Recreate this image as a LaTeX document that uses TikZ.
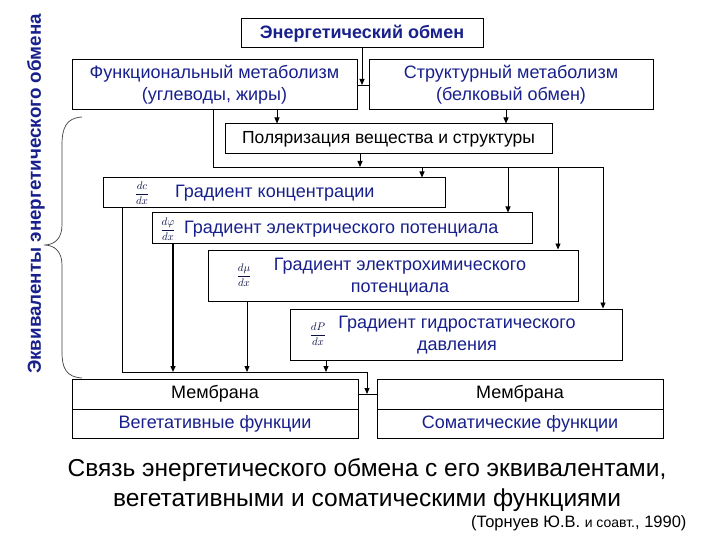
\documentclass[tikz,border=0pt]{standalone}
\usepackage{fontspec}
\setmainfont{Liberation Sans}
\usepackage{amsmath}
\usetikzlibrary{arrows.meta}
\definecolor{txblue}{RGB}{24,32,140}

\begin{document}
\begin{tikzpicture}[x=1pt,y=-1pt,
  box/.style={draw, line width=1pt, inner sep=0pt},
  arr/.style={-{Triangle[length=6pt,width=5pt]}, line width=0.9pt},
  bluetxt/.style={font=\fontsize{18}{22}\selectfont, text=txblue, align=center},
  blacktxt/.style={font=\fontsize{18}{22}\selectfont, align=center},
  fracl/.style={font=\fontsize{10.5}{12}\selectfont, text=txblue!50!black}]
  \useasboundingbox[fill=white] (0,0) rectangle (720,540);

  % Side label and brace
  \node[rotate=90, font=\fontsize{18.8}{22}\selectfont\bfseries, text=txblue] (side) at (36,194) {Эквиваленты энергетического обмена};
  \draw[line width=0.7pt, black!75] (82,117) .. controls (66,118) and (62,128) .. (62,145) -- (62,225)
    .. controls (62,238) and (55,245) .. (44,245) .. controls (55,245) and (62,252) .. (62,265) -- (62,352)
    .. controls (62,368) and (66,377) .. (82,378);

  % Energy exchange and metabolism
  \node[box, minimum width=242, minimum height=29, font=\fontsize{18}{20}\selectfont\bfseries, text=txblue] (energy) at (362,33.5) {Энергетический обмен};
  \node[box, bluetxt, minimum width=285, minimum height=50] (func) at (214.5,85) {Функциональный метаболизм\\(углеводы, жиры)};
  \node[box, bluetxt, minimum width=284, minimum height=50] (struct) at (511,85) {Структурный метаболизм\\(белковый обмен)};
  \node[box, blacktxt, minimum width=327, minimum height=30, font=\fontsize{17.5}{22}\selectfont] (polar) at (388.5,139) {Поляризация вещества и структуры};

  % Gradients
  \node[box, minimum width=342, minimum height=30] (gconc) at (274,193) {};
  \node[fracl] (fconc) at (142,193) {$\displaystyle\frac{dc}{dx}$};
  \node[bluetxt, anchor=west, inner sep=0pt] (tconc) at (175,193) {Градиент концентрации};

  \node[box, minimum width=380, minimum height=30] (gelec) at (342,228) {};
  \node[fracl] (felec) at (168,229) {$\displaystyle\frac{d\varphi}{dx}$};
  \node[bluetxt, anchor=west, inner sep=0pt] (telec) at (184,229) {Градиент электрического потенциала};

  \node[box, minimum width=370, minimum height=51] (gchem) at (393,275.5) {};
  \node[fracl] (fchem) at (244,275) {$\displaystyle\frac{d\mu}{dx}$};
  \node[bluetxt] (tchem) at (400,277) {Градиент электрохимического\\потенциала};

  \node[box, minimum width=332, minimum height=51] (ghyd) at (456,334.5) {};
  \node[fracl] (fhyd) at (318,334) {$\displaystyle\frac{dP}{dx}$};
  \node[bluetxt] (thyd) at (457,335) {Градиент гидростатического\\давления};

  % Membranes
  \node[box, blacktxt, minimum width=286, minimum height=30] (memL) at (215,394) {Мембрана};
  \node[box, bluetxt, minimum width=286, minimum height=29] (vegL) at (215,423.5) {Вегетативные функции};
  \node[box, blacktxt, minimum width=286, minimum height=30] (memR) at (520,394) {Мембрана};
  \node[box, bluetxt, minimum width=286, minimum height=29] (somR) at (520,423.5) {Соматические функции};

  % Connectors (top)
  \coordinate (busA) at (603,167);
  \draw[line width=0.9pt] (func.east) -- (struct.west);
  \draw[arr] (energy.south) -- (energy.south |- func.east);
  \draw[arr] (func.south -| 277,0) -- (polar.north -| 277,0);
  \draw[arr] (struct.south -| 506,0) -- (polar.north -| 506,0);
  \draw[arr] (func.south -| 213,0) |- (busA) -- (ghyd.north -| busA);
  \draw[arr] (polar.south -| 360,0) -- (busA -| 360,0);
  \draw[arr] (busA -| 422,0) -- (gconc.north -| 422,0);
  \draw[arr] (busA -| 508,0) -- (gelec.north -| 508,0);
  \draw[arr] (busA -| 558,0) -- (gchem.north -| 558,0);

  % Connectors (bottom)
  \coordinate (busB) at (367,372);
  \draw[line width=0.9pt] (memL.east) -- (memR.west);
  \draw[arr] (gconc.south -| 122,0) |- (busB) -- (memL.east -| busB);
  \draw[arr, line width=1.4pt] (gelec.south -| 173,0) -- (busB -| 173,0);
  \draw[arr] (gchem.south -| 247,0) -- (busB -| 247,0);
  \draw[arr] (ghyd.south -| 326,0) -- (busB -| 326,0);

  % Caption
  \node[font=\fontsize{24.5}{30}\selectfont] (cap1) at (367,470) {Связь энергетического обмена с его эквивалентами,};
  \node[font=\fontsize{24.5}{30}\selectfont] (cap2) at (367,500) {вегетативными и соматическими функциями};
  \node[font=\fontsize{16.5}{18}\selectfont, anchor=east] (src) at (690,523) {(Торнуев Ю.В. {\fontsize{14}{16}\selectfont и соавт.}, 1990)};
\end{tikzpicture}
\end{document}
